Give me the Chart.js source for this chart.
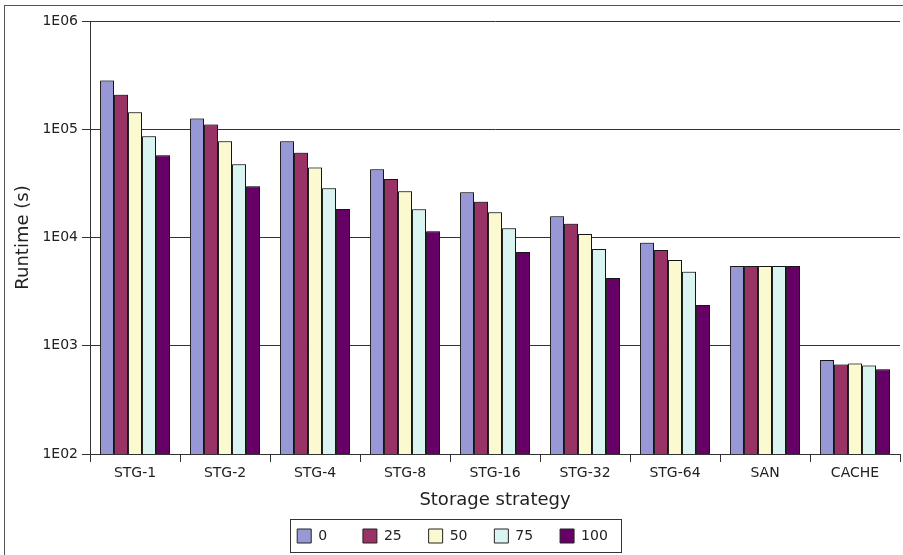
<!DOCTYPE html>
<html><head><meta charset="utf-8">
<script src="https://cdn.jsdelivr.net/npm/chart.js@4/dist/chart.umd.min.js"></script>
<style>html,body{margin:0;padding:0;background:#fff}canvas{display:block}</style>
</head><body>
<canvas id="c" width="903" height="555"></canvas>
<script>
const categories = ['STG-1','STG-2','STG-4','STG-8','STG-16','STG-32','STG-64','SAN','CACHE'];
const seriesNames = ['0','25','50','75','100'];
const s0   = [282000,125600,77300,42750,26190,15710,8950,5450,740];
const s25  = [208000,110500,60500,34770,21440,13420,7660,5450,671];
const s50  = [143900,77600,44230,26760,17110,10780,6190,5450,686];
const s75  = [86300,47550,28520,18240,12170,7830,4830,5450,657];
const s100 = [57600,29770,18350,11410,7340,4220,2375,5450,607];
const yTickValues = [100,1000,10000,100000,1000000];
const yTickLabels = ['1E02','1E03','1E04','1E05','1E06'];
const xTitle = 'Storage strategy';
const yTitle = 'Runtime (s)';

const colors = ['#9898d6','#993366','#fbf9d0','#daf5f1','#660066'];
const seriesData = [s0,s25,s50,s75,s100];
const FONT = 'DejaVu Sans';

const frame = {
  id:'frame',
  beforeDraw(chart){
    const ctx = chart.ctx;
    ctx.save();
    ctx.strokeStyle = '#555';
    ctx.lineWidth = 1;
    ctx.strokeRect(4.5, 5.5, 1200, 1200);
    ctx.restore();
  }
};
const shadow = {
  id:'shadow',
  beforeDatasetsDraw(chart){
    const ctx = chart.ctx;
    ctx.save();
    ctx.shadowColor = 'rgba(0,0,0,0.35)';
    ctx.shadowOffsetX = 1;
    ctx.shadowOffsetY = -1;
    ctx.shadowBlur = 0;
  },
  afterDatasetsDraw(chart){ chart.ctx.restore(); }
};
const legendBorder = {
  id:'legendBorder',
  afterDraw(chart){
    const hb = chart.legend.legendHitBoxes;
    if (!hb || !hb.length) return;
    const first = hb[0], last = hb[hb.length-1];
    const l = Math.round(first.left - 7) + 0.5;
    const r = Math.round(last.left + last.width + 13) + 0.5;
    const t = Math.round(first.top - 10) + 0.5;
    const b = Math.round(first.top + first.height + 9) + 0.5;
    const ctx = chart.ctx;
    ctx.save();
    ctx.strokeStyle = '#333';
    ctx.lineWidth = 1;
    ctx.strokeRect(l, t, r - l, b - t);
    ctx.restore();
  }
};

new Chart(document.getElementById('c'), {
  type:'bar',
  data:{
    labels: categories,
    datasets: seriesNames.map((n,i)=>({
      label:n,
      data:seriesData[i],
      backgroundColor:colors[i],
      borderColor:'#222',
      borderWidth:1,
      categoryPercentage:0.778,
      barPercentage:1.0
    }))
  },
  options:{
    responsive:false,
    animation:false,
    devicePixelRatio:1,
    layout:{padding:{left:5,right:3,top:21,bottom:2}},
    plugins:{
      tooltip:{enabled:false},
      legend:{
        position:'bottom',
        labels:{
          font:{family:FONT,size:14},
          color:'#222',
          boxWidth:14,
          boxHeight:14,
          padding:18,
          generateLabels(chart){
            const items = Chart.defaults.plugins.legend.labels.generateLabels(chart);
            items.forEach(it=>{ it.text = it.text + ' '.repeat(2*(3-it.text.length)); });
            return items;
          }
        }
      }
    },
    scales:{
      x:{
        afterFit(s){ s.height = 57; },
        grid:{display:true,drawOnChartArea:false,drawTicks:true,tickLength:8,color:'#333',offset:true},
        border:{display:true,color:'#333'},
        ticks:{font:{family:FONT,size:14},color:'#222',padding:3,maxRotation:0,autoSkip:false},
        title:{display:true,text:xTitle,font:{family:FONT,size:18},color:'#222',padding:{top:0,bottom:0}}
      },
      y:{
        type:'logarithmic',
        min:100,max:1000000,
        afterFit(s){ s.width = 85; },
        afterBuildTicks(s){ s.ticks = yTickValues.map(v=>({value:v})); },
        grid:{color:'#333',drawTicks:true,tickLength:8},
        border:{display:true,color:'#333'},
        ticks:{font:{family:FONT,size:14},color:'#222',padding:4,
          callback(v){ const i = yTickValues.indexOf(v); return i>=0 ? yTickLabels[i] : ''; }},
        title:{display:true,text:yTitle,font:{family:FONT,size:18},color:'#222',padding:{top:8,bottom:0}}
      }
    }
  },
  plugins:[frame,shadow,legendBorder]
});
</script>
</body></html>
